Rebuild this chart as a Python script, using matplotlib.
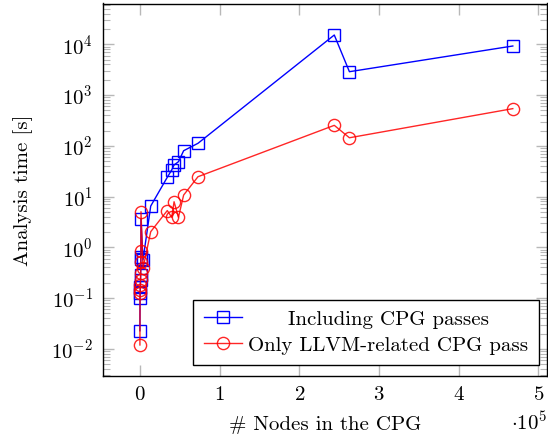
import matplotlib
matplotlib.use("Agg")
import matplotlib.pyplot as plt
from matplotlib.ticker import LogLocator, FixedLocator, NullFormatter
import numpy as np

plt.rcParams['font.family'] = 'serif'
plt.rcParams['font.serif'] = ['cmr10']
plt.rcParams['mathtext.fontset'] = 'cm'
plt.rcParams['axes.formatter.use_mathtext'] = True

# Data: number of CPG nodes and analysis time (s)
nodes = [150, 300, 500, 700, 900, 1100, 1300, 1400, 1500, 4000,
         13700, 34500, 40000, 43000, 48500, 55000, 73000,
         244000, 263000, 468000]
time_including = [0.0227, 0.099, 0.124, 0.168, 0.227, 0.284, 0.60, 0.635, 3.61, 0.562,
                  6.5, 24.0, 33.4, 41.9, 48.6, 80.0, 112.0,
                  15240.0, 2885.0, 9260.0]
time_llvm_only = [0.0119, 0.124, 0.144, 0.181, 0.227, 0.307, 0.52, 0.857, 5.03, 0.386,
                  2.03, 5.3, 3.9, 7.9, 3.9, 10.7, 24.6,
                  253.0, 144.0, 540.0]
label_including = "Including CPG passes"
label_llvm = "Only LLVM-related CPG pass"
x_ticks = [0, 1, 2, 3, 4, 5]

FS = 15
W, H = 548, 441
fig = plt.figure(figsize=(W / 100, H / 100), dpi=100)
left, right, top, bottom = 102.5, 547, 3.5, 376
ax = fig.add_axes([left / W, 1 - bottom / H, (right - left) / W, (bottom - top) / H])

x1 = np.array(nodes) / 1e5
ax.plot(x1, time_including, color='blue', lw=1.0, marker='s', ms=8.3,
        mfc='none', mec='blue', mew=1.0, label=label_including)
ax.plot(x1, time_llvm_only, color='red', lw=1.0, marker='o', ms=8.8,
        mfc='none', mec='red', mew=1.0, label=label_llvm, alpha=0.85)

ax.set_yscale('log')
ax.set_xlim(-0.468, 5.109)
ax.set_ylim(10 ** -2.536, 10 ** 4.804)

ax.xaxis.set_major_locator(FixedLocator(x_ticks))
ax.set_xticklabels([f"${t}$" for t in x_ticks])
ax.yaxis.set_major_locator(LogLocator(base=10, numticks=20))
ax.yaxis.set_minor_locator(LogLocator(base=10, subs=np.arange(2, 10), numticks=20))
ax.yaxis.set_minor_formatter(NullFormatter())
ax.xaxis.get_offset_text().set_visible(False)
ax.yaxis.get_offset_text().set_visible(False)

tick_col = '#b8b8b8'
ax.tick_params(axis='both', which='major', direction='in', length=8, width=1.0,
               color=tick_col, top=True, right=True, labelsize=FS, pad=7)
ax.tick_params(axis='both', which='minor', direction='in', length=5, width=0.8,
               color=tick_col, top=True, right=True)
ax.tick_params(axis='x', which='minor', top=False, bottom=False)
for s in ax.spines.values():
    s.set_linewidth(1.0)
    s.set_color('black')

ax.set_xlabel("# Nodes in the CPG", fontsize=FS, labelpad=9)
ax.set_ylabel("Analysis time [s]", fontsize=FS, labelpad=13)
ax.text(1.0, -0.125, r"$\cdot 10^{5}$", transform=ax.transAxes, fontsize=FS,
        ha='right', va='center')

leg = ax.legend(loc='lower right', bbox_to_anchor=((539 - left) / (right - left), (bottom - 365) / (bottom - top)),
                fontsize=FS, frameon=True, fancybox=False,
                edgecolor='black', framealpha=1, handlelength=1.85,
                handletextpad=0.3, borderpad=0.5, labelspacing=0.35,
                borderaxespad=0)
leg.get_frame().set_linewidth(1.0)

fig.canvas.draw()
r = fig.canvas.get_renderer()
texts = leg.get_texts()
widths = [t.get_window_extent(r).width for t in texts]
wmax = max(widths)
for t, w in zip(texts, widths):
    t.set_x((wmax - w) / 2)

fig.savefig("out.png", dpi=100)
